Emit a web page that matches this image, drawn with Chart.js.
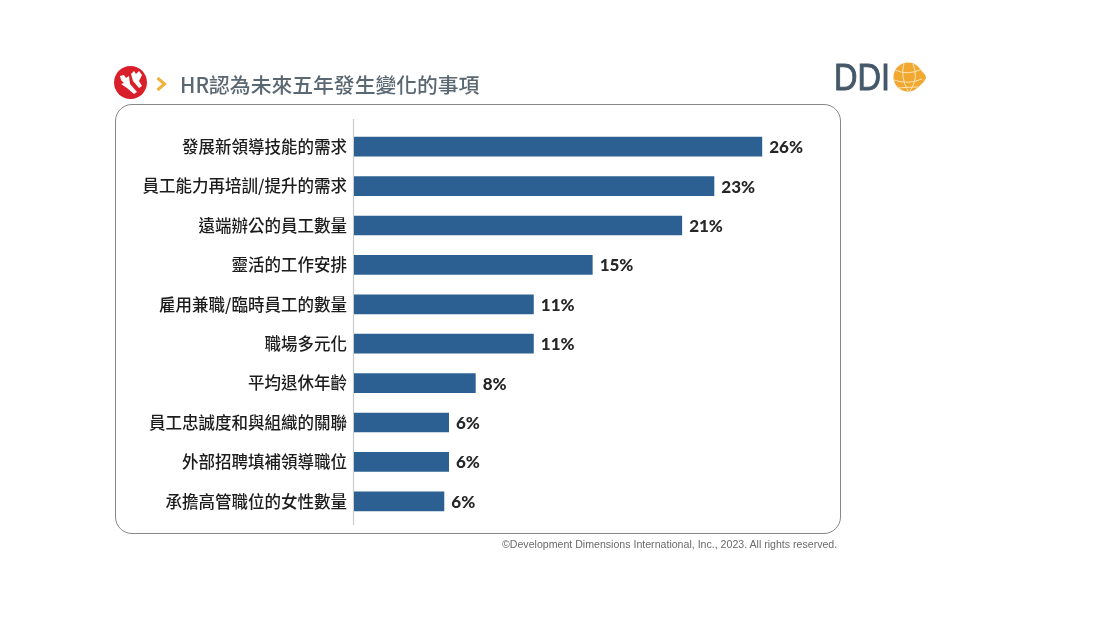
<!DOCTYPE html>
<html lang="zh-Hant">
<head>
<meta charset="utf-8">
<script src="https://cdn.jsdelivr.net/npm/chart.js@4"></script>
<style>
html,body{margin:0;padding:0;background:#fff;width:1118px;height:631px;overflow:hidden}
#card{position:absolute;left:115px;top:104px;width:724px;height:428px;border:1.6px solid #85878a;border-radius:17px;box-sizing:content-box}
#wrap{position:absolute;left:0;top:0;width:1118px;height:631px}
#title{position:absolute;left:180px;top:69px;font:500 20.8px/30px "Noto Sans CJK TC";color:#5a6873;white-space:nowrap}
#copy{position:absolute;left:502px;top:537px;font:10.6px/14px "Liberation Sans";color:#6a6a6a;white-space:nowrap}
svg{position:absolute;left:0;top:0}
</style>
</head>
<body>
<div id="card"></div>
<div id="wrap"><canvas id="c" width="1118" height="631"></canvas></div>
<svg width="1118" height="631" viewBox="0 0 1118 631">
  <circle cx="130.500" cy="82.500" r="16.500" fill="#d9202a"/>
  <path d="M120 76l4-1 2 3 3-2 1 8 7 8-3 2-7-6-6-4 3-1-3-3z" fill="#fff"/>
  <path d="M131 74l3-3 2 3 3-3 3 4-3 6 3 5-3 2-6-7z" fill="#fff"/>
  <path d="M157.500 78l7 6-7 6" fill="none" stroke="#f0b23e" stroke-width="3"/>
  <text x="834" y="90" font-family="Liberation Sans" font-size="37" fill="#44586a" stroke="#44586a" stroke-width="0.9" textLength="56" lengthAdjust="spacingAndGlyphs">DDI</text>
  <circle cx="908" cy="77" r="14.500" fill="#f0a830"/>
  <path d="M918 68q8 6 8 10q-3 7-10 9z" fill="#f0a830"/>
  <g fill="none" stroke="#fbe3b4" stroke-width="1">
    <path d="M895 70q13 6 27-1M894 80q14 5 28-1M898 88q10-1 20-1"/>
    <path d="M904 63q-4 14 4 28M913 64q6 14-3 27"/>
  </g>
</svg>
<div id="title">HR認為未來五年發生變化的事項</div>
<div id="copy">©Development Dimensions International, Inc., 2023. All rights reserved.</div>
<script>
const categories = ["發展新領導技能的需求","員工能力再培訓/提升的需求","遠端辦公的員工數量","靈活的工作安排","雇用兼職/臨時員工的數量","職場多元化","平均退休年齡","員工忠誠度和與組織的關聯","外部招聘填補領導職位","承擔高管職位的女性數量"];
const barValues = [26, 22.95, 20.9, 15.2, 11.45, 11.45, 7.75, 6.05, 6.05, 5.75];
const valueLabels = ["26%","23%","21%","15%","11%","11%","8%","6%","6%","6%"];

const axisLine = {
  id:"axisLine",
  beforeDatasetsDraw(chart){
    const {ctx,chartArea:a} = chart;
    ctx.save();
    ctx.strokeStyle = "#c9cccf";
    ctx.lineWidth = 1.2;
    ctx.beginPath();
    ctx.moveTo(a.left-0.5, a.top-8);
    ctx.lineTo(a.left-0.5, a.bottom+4);
    ctx.stroke();
    ctx.restore();
  }
};
const barLabels = {
  id:"barLabels",
  afterDatasetsDraw(chart){
    const {ctx} = chart;
    ctx.save();
    ctx.font = '900 17px "Lato"';
    ctx.fillStyle = "#262626";
    ctx.textAlign = "left";
    ctx.textBaseline = "middle";
    chart.getDatasetMeta(0).data.forEach((bar,i)=>{
      ctx.fillText(valueLabels[i], bar.x+7, bar.y+1);
    });
    ctx.restore();
  }
};

new Chart(document.getElementById("c"),{
  type:"bar",
  data:{labels:categories,datasets:[{data:barValues,backgroundColor:"#2c6092",barPercentage:0.5,categoryPercentage:1}]},
  options:{
    indexAxis:"y",
    responsive:false,
    animation:false,
    layout:{padding:{left:0,right:293,top:127,bottom:110}},
    plugins:{legend:{display:false},tooltip:{enabled:false},title:{display:false}},
    scales:{
      x:{display:false,min:0,max:30},
      y:{
        afterFit(s){s.width=354;},
        border:{display:false},
        grid:{display:false},
        ticks:{color:"#1c1c1c",padding:-1,autoSkip:false,font:{family:'"Noto Sans CJK TC"',size:16.5,weight:"500"}}
      }
    }
  },
  plugins:[axisLine,barLabels]
});
</script>
</body>
</html>
